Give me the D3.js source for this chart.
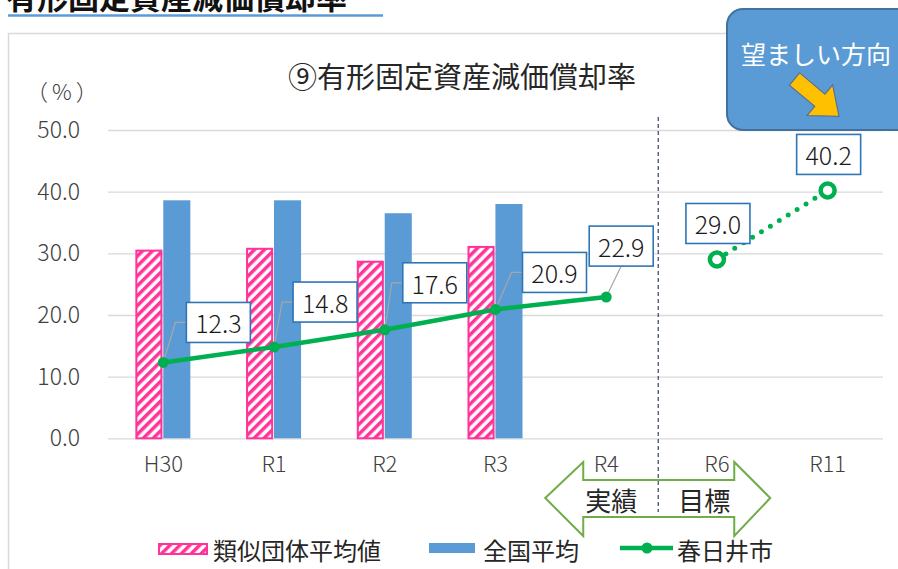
<!DOCTYPE html>
<html lang="ja">
<head>
  <meta charset="UTF-8">
  <title>有形固定資産減価償却率</title>
  <style>
    * { margin: 0; box-sizing: border-box; }
    body { background: #fff; overflow: hidden; }
    svg { display: block; font-family: "Noto Sans CJK JP", "Noto Sans", sans-serif; }
  </style>
</head>
<body>
  <svg></svg>
  <script src="https://d3js.org/d3.v7.min.js"></script>
  <script>
    const categories = ['H30', 'R1', 'R2', 'R3', 'R4', 'R6', 'R11'];
    const barCategories = ['H30', 'R1', 'R2', 'R3'];
    const similarAvg = [30.6, 30.9, 28.8, 31.2];
    const nationalAvg = [38.6, 38.6, 36.5, 38.0];
    const actualCats = ['H30', 'R1', 'R2', 'R3', 'R4'];
    const kasugaiActual = [12.3, 14.8, 17.6, 20.9, 22.9];
    const targetCats = ['R6', 'R11'];
    const kasugaiTarget = [29.0, 40.2];
    const yTicks = [0, 10, 20, 30, 40, 50];
    const legendNames = ['類似団体平均値', '全国平均', '春日井市'];

    // label box offsets from each point (layout only)
    const actualLabelOffset = [[55, -40], [51, -45], [50, -47], [59, -37], [15, -51]];
    const targetLabelOffset = [[1, -36], [1, -36]];

    const width = 898;
    const height = 569;
    const pink = '#ff3399';
    const blue = '#5b9bd5';
    const green = '#00b050';
    const gridColor = '#d9d9d9';
    const textColor = '#404040';

    const svg = d3.select('svg')
      .attr('width', width)
      .attr('height', height);

    const defs = svg.append('defs');
    const hatch = defs.append('pattern')
      .attr('id', 'hatch')
      .attr('patternUnits', 'userSpaceOnUse')
      .attr('width', 7)
      .attr('height', 7)
      .attr('patternTransform', 'rotate(45)');
    hatch.append('rect').attr('width', 7).attr('height', 7).attr('fill', '#fff');
    hatch.append('line')
      .attr('x1', 1.75).attr('y1', 0).attr('x2', 1.75).attr('y2', 7)
      .attr('stroke', pink).attr('stroke-width', 3.5);

    // page header (cut at top, as in the source page)
    svg.append('text')
      .attr('x', 6)
      .attr('y', 9)
      .attr('font-size', 31)
      .attr('font-weight', 'bold')
      .attr('fill', '#111')
      .text('有形固定資産減価償却率');
    svg.append('line')
      .attr('x1', 8).attr('x2', 383).attr('y1', 15.5).attr('y2', 15.5)
      .attr('stroke', blue).attr('stroke-width', 2.5);

    // chart frame
    svg.append('rect')
      .attr('x', 8.5).attr('y', 33.5)
      .attr('width', 1000).attr('height', 1000)
      .attr('fill', 'none')
      .attr('stroke', gridColor)
      .attr('stroke-width', 1.5);

    const x = d3.scaleBand().domain(categories).range([108, 883]);
    const bw = x.bandwidth();
    const cx = d => x(d) + bw / 2;
    const y = d3.scaleLinear().domain([0, 50]).range([438.3, 130]);
    const x1 = d3.scaleBand().domain(['sim', 'nat']).range([-28, 27]).paddingInner(0.03);

    // chart title
    svg.append('text')
      .attr('x', 462)
      .attr('y', 75)
      .attr('text-anchor', 'middle')
      .attr('dominant-baseline', 'central')
      .attr('font-size', 29)
      .attr('fill', '#262626')
      .text('⑨有形固定資産減価償却率');

    svg.append('text')
      .attr('x', 26)
      .attr('y', 90)
      .attr('dominant-baseline', 'central')
      .attr('font-size', 22)
      .attr('font-weight', 300)
      .attr('letter-spacing', 4)
      .attr('fill', textColor)
      .text('（%）');

    // grid + y axis
    const yAxis = svg.append('g')
      .attr('transform', 'translate(108,0)')
      .call(d3.axisLeft(y).tickValues(yTicks).tickFormat(d3.format('.1f'))
        .tickSize(-775).tickPadding(28));
    yAxis.select('.domain').remove();
    yAxis.selectAll('.tick line').attr('stroke', gridColor).attr('stroke-width', 1.3);
    yAxis.selectAll('.tick text')
      .attr('font-family', '"Noto Sans CJK JP", sans-serif')
      .attr('font-size', 23)
      .attr('font-weight', 300)
      .attr('fill', textColor);

    // double arrow 実績 / 目標
    const divX = cx('R4') + bw * 0.47;
    const arrowPts = [
      [divX - 113, 498], [divX - 75, 462], [divX - 75, 480],
      [divX + 76, 480], [divX + 76, 462], [divX + 112, 498],
      [divX + 76, 536], [divX + 76, 517], [divX - 75, 517],
      [divX - 75, 536]
    ];
    svg.append('path')
      .attr('d', d3.line()(arrowPts) + 'Z')
      .attr('fill', '#fff')
      .attr('stroke', '#70ad47')
      .attr('stroke-width', 2);
    svg.append('text')
      .attr('x', divX - 47).attr('y', 499)
      .attr('text-anchor', 'middle').attr('dominant-baseline', 'central')
      .attr('font-size', 26).attr('fill', '#262626')
      .text('実績');
    svg.append('text')
      .attr('x', divX + 46).attr('y', 499)
      .attr('text-anchor', 'middle').attr('dominant-baseline', 'central')
      .attr('font-size', 26).attr('fill', '#262626')
      .text('目標');

    // divider
    svg.append('line')
      .attr('x1', divX).attr('x2', divX)
      .attr('y1', 117).attr('y2', 512)
      .attr('stroke', '#44546a')
      .attr('stroke-width', 1.3)
      .attr('stroke-dasharray', '4,3');

    // x labels
    const xAxis = svg.append('g')
      .attr('transform', 'translate(0,438.3)')
      .call(d3.axisBottom(x).tickSize(0).tickPadding(18));
    xAxis.select('.domain').remove();
    xAxis.selectAll('.tick text')
      .attr('font-family', '"Noto Sans CJK JP", sans-serif')
      .attr('font-size', 22)
      .attr('font-weight', 300)
      .attr('fill', textColor);

    // bars
    const barData = barCategories.map((c, i) => ({ c, sim: similarAvg[i], nat: nationalAvg[i] }));
    const groups = svg.append('g').selectAll('g')
      .data(barData)
      .join('g')
      .attr('transform', d => 'translate(' + cx(d.c) + ',0)');
    groups.append('rect')
      .attr('x', x1('sim') + 1)
      .attr('y', d => y(d.sim) + 1)
      .attr('width', x1.bandwidth() - 2)
      .attr('height', d => y(0) - y(d.sim) - 1)
      .attr('fill', 'url(#hatch)')
      .attr('stroke', pink)
      .attr('stroke-width', 2);
    groups.append('rect')
      .attr('x', x1('nat'))
      .attr('y', d => y(d.nat))
      .attr('width', x1.bandwidth())
      .attr('height', d => y(0) - y(d.nat))
      .attr('fill', blue);

    // Kasugai line
    const actual = actualCats.map((c, i) => ({ c, v: kasugaiActual[i], off: actualLabelOffset[i] }));
    const target = targetCats.map((c, i) => ({ c, v: kasugaiTarget[i], off: targetLabelOffset[i] }));
    const line = d3.line().x(d => cx(d.c)).y(d => y(d.v));

    // leader lines
    const boxW = 64, boxH = 40;
    const leaders = svg.append('g');
    actual.forEach((d, i) => {
      const px = cx(d.c), py = y(d.v);
      const bx = px + d.off[0], by = py + d.off[1];
      let pts;
      if (i < 4) {
        pts = [[px, py], [bx - boxW / 2 - 11, by], [bx - boxW / 2, by]];
      } else {
        pts = [[px, py], [bx, by + boxH / 2]];
      }
      leaders.append('path')
        .attr('d', d3.line()(pts))
        .attr('fill', 'none')
        .attr('stroke', '#a6a6a6')
        .attr('stroke-width', 1.2);
    });

    svg.append('path')
      .datum(actual)
      .attr('d', line)
      .attr('fill', 'none')
      .attr('stroke', green)
      .attr('stroke-width', 4.5);
    svg.append('g').selectAll('circle')
      .data(actual)
      .join('circle')
      .attr('cx', d => cx(d.c))
      .attr('cy', d => y(d.v))
      .attr('r', 5.5)
      .attr('fill', green);

    svg.append('path')
      .datum(target)
      .attr('d', line)
      .attr('fill', 'none')
      .attr('stroke', green)
      .attr('stroke-width', 5)
      .attr('stroke-linecap', 'round')
      .attr('stroke-dasharray', '0,10.5');
    svg.append('g').selectAll('circle')
      .data(target)
      .join('circle')
      .attr('cx', d => cx(d.c))
      .attr('cy', d => y(d.v))
      .attr('r', 7)
      .attr('fill', '#fff')
      .attr('stroke', green)
      .attr('stroke-width', 4.5);

    // data label boxes
    const labels = svg.append('g').selectAll('g')
      .data(actual.concat(target))
      .join('g')
      .attr('transform', d => 'translate(' + (cx(d.c) + d.off[0]) + ',' + (y(d.v) + d.off[1]) + ')');
    labels.append('rect')
      .attr('x', -boxW / 2).attr('y', -boxH / 2)
      .attr('width', boxW).attr('height', boxH)
      .attr('fill', '#fff')
      .attr('stroke', '#2e75b6')
      .attr('stroke-width', 1.6);
    labels.append('text')
      .attr('text-anchor', 'middle')
      .attr('dominant-baseline', 'central')
      .attr('font-size', 25)
      .attr('font-weight', 300)
      .attr('fill', '#1a1a1a')
      .text(d => d3.format('.1f')(d.v));

    // callout 望ましい方向
    svg.append('rect')
      .attr('x', 727).attr('y', 9)
      .attr('width', 200).attr('height', 121)
      .attr('rx', 16)
      .attr('fill', blue)
      .attr('stroke', '#41719c')
      .attr('stroke-width', 2);
    svg.append('text')
      .attr('x', 816).attr('y', 53)
      .attr('text-anchor', 'middle').attr('dominant-baseline', 'central')
      .attr('font-size', 25).attr('fill', '#fff')
      .text('望ましい方向');
    const arrow = [[-28, -8], [5, -8], [5, -20], [30, 0], [5, 20], [5, 8], [-28, 8]];
    svg.append('path')
      .attr('d', d3.line()(arrow) + 'Z')
      .attr('transform', 'translate(816,97) rotate(40)')
      .attr('fill', '#ffc000')
      .attr('stroke', '#5a7090')
      .attr('stroke-width', 1.2);

    // legend
    const legend = svg.append('g');
    legend.append('rect')
      .attr('x', 159).attr('y', 544).attr('width', 48).attr('height', 10)
      .attr('fill', 'url(#hatch)').attr('stroke', pink).attr('stroke-width', 2);
    legend.append('rect')
      .attr('x', 429).attr('y', 543).attr('width', 46).attr('height', 10)
      .attr('fill', blue);
    legend.append('line')
      .attr('x1', 620).attr('x2', 673).attr('y1', 548).attr('y2', 548)
      .attr('stroke', green).attr('stroke-width', 4.5);
    legend.append('circle')
      .attr('cx', 647).attr('cy', 548).attr('r', 5.5).attr('fill', green);
    const legendX = [213, 483, 677];
    legend.selectAll('text')
      .data(legendNames)
      .join('text')
      .attr('x', (d, i) => legendX[i])
      .attr('y', 549)
      .attr('dominant-baseline', 'central')
      .attr('font-size', 24)
      .attr('fill', '#262626')
      .text(d => d);
  </script>
</body>
</html>
